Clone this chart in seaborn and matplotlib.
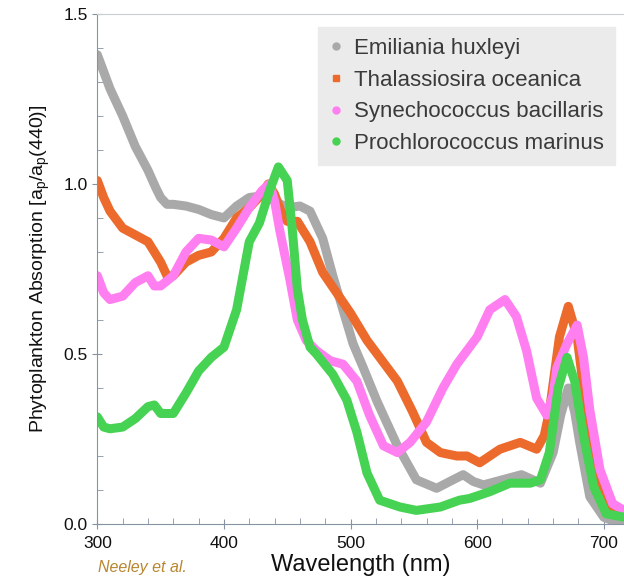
import numpy as np
import pandas as pd
import matplotlib.pyplot as plt
import seaborn as sns
from matplotlib.lines import Line2D
from matplotlib.ticker import MultipleLocator

# Données (longueur d'onde en nm, absorption normalisée)
gray_wl = [300, 305, 310, 320, 330, 340, 346, 350, 355, 360, 370, 380, 390, 400, 410, 420, 430, 440, 450,
           460, 468, 478, 486, 494, 502, 510, 521, 537, 552, 568, 581, 589, 597, 605, 620, 635, 650,
           660, 666, 672, 677, 681, 689, 700, 710, 716]
gray_val = [1.38, 1.33, 1.28, 1.20, 1.11, 1.04, 0.99, 0.96, 0.94, 0.94, 0.935, 0.925, 0.91, 0.90, 0.935, 0.96,
            0.965, 0.95, 0.93, 0.935, 0.92, 0.84, 0.73, 0.63, 0.53, 0.46, 0.36, 0.23, 0.13, 0.105, 0.13,
            0.145, 0.125, 0.115, 0.13, 0.145, 0.12, 0.21, 0.32, 0.40, 0.33, 0.24, 0.08, 0.02, 0.005, 0.0]

orange_wl = [300, 305, 310, 320, 330, 340, 350, 355, 360, 370, 380, 390, 400, 410, 420, 430, 435, 440,
             445, 450, 458, 468, 478, 489, 500, 513, 521, 537, 549, 560, 571, 584, 592, 602, 618, 634,
             647, 653, 657, 665, 672, 679, 687, 695, 705, 716]
orange_val = [1.01, 0.96, 0.92, 0.87, 0.85, 0.83, 0.77, 0.73, 0.73, 0.77, 0.79, 0.80, 0.84, 0.90, 0.93,
              0.97, 1.0, 0.97, 0.92, 0.89, 0.89, 0.83, 0.74, 0.68, 0.62, 0.54, 0.50, 0.42, 0.33, 0.24,
              0.21, 0.20, 0.20, 0.18, 0.22, 0.24, 0.22, 0.26, 0.33, 0.55, 0.64, 0.55, 0.31, 0.12, 0.05, 0.03]

pink_wl = [300, 305, 310, 320, 330, 340, 345, 350, 360, 370, 380, 390, 400, 410, 420, 430, 436, 440,
           444, 452, 458, 465, 473, 484, 494, 505, 515, 526, 537, 547, 560, 573, 584, 600, 610, 622,
           631, 639, 647, 655, 660, 663, 671, 679, 684, 689, 697, 707, 716]
pink_val = [0.73, 0.68, 0.66, 0.67, 0.71, 0.73, 0.70, 0.70, 0.73, 0.80, 0.84, 0.835, 0.815, 0.87, 0.93,
            0.98, 1.0, 0.95, 0.865, 0.72, 0.60, 0.54, 0.51, 0.48, 0.47, 0.42, 0.32, 0.23, 0.21, 0.24,
            0.30, 0.40, 0.47, 0.55, 0.63, 0.66, 0.61, 0.51, 0.37, 0.32, 0.38, 0.46, 0.53, 0.585, 0.49,
            0.335, 0.16, 0.06, 0.04]

green_wl = [300, 305, 310, 320, 330, 340, 345, 350, 360, 370, 380, 390, 400, 410, 413, 420, 428, 436,
            443, 450, 454, 458, 462, 468, 473, 486, 497, 505, 513, 523, 539, 552, 571, 586, 594, 610,
            626, 642, 650, 657, 664, 671, 677, 684, 692, 702, 716]
green_val = [0.315, 0.285, 0.28, 0.285, 0.31, 0.345, 0.35, 0.325, 0.325, 0.385, 0.45, 0.49, 0.52, 0.63,
             0.69, 0.83, 0.885, 0.98, 1.05, 1.01, 0.865, 0.69, 0.60, 0.52, 0.50, 0.44, 0.365, 0.27, 0.15,
             0.07, 0.05, 0.04, 0.05, 0.07, 0.075, 0.095, 0.12, 0.12, 0.13, 0.21, 0.40, 0.49, 0.42, 0.26,
             0.11, 0.03, 0.02]

species = ['Emiliania huxleyi', 'Thalassiosira oceanica', 'Synechococcus bacillaris', 'Prochlorococcus marinus']
colors = ['#a9a9a9', '#ec6a2c', '#ff7ff0', '#46d253']
markers = ['o', 's', 'o', 'o']

# Tableau long pour seaborn
df = pd.concat([
    pd.DataFrame({'wl': gray_wl, 'val': gray_val, 'sp': species[0]}),
    pd.DataFrame({'wl': orange_wl, 'val': orange_val, 'sp': species[1]}),
    pd.DataFrame({'wl': pink_wl, 'val': pink_val, 'sp': species[2]}),
    pd.DataFrame({'wl': green_wl, 'val': green_val, 'sp': species[3]}),
])

sns.set_style('ticks')
plt.rcParams['font.family'] = ['Liberation Sans', 'DejaVu Sans']

fig = plt.figure(figsize=(6.24, 5.79), dpi=100)
ax = fig.add_axes([0.156, 0.095, 0.844, 0.881])

for sp, c in zip(species, colors):
    sub = df[df['sp'] == sp]
    sns.lineplot(data=sub, x='wl', y='val', color=c, linewidth=6.5, ax=ax,
                 sort=False, estimator=None, solid_joinstyle='round', solid_capstyle='round')

ax.set_xlim(300, 716)
ax.set_ylim(0, 1.5)
ax.xaxis.set_major_locator(MultipleLocator(100))
ax.xaxis.set_minor_locator(MultipleLocator(20))
ax.yaxis.set_major_locator(MultipleLocator(0.5))
ax.yaxis.set_minor_locator(MultipleLocator(0.1))
ax.yaxis.set_major_formatter(plt.FormatStrFormatter('%.1f'))

spine_col = '#8593a3'
for s in ['left', 'bottom']:
    ax.spines[s].set_color(spine_col)
ax.spines['top'].set_color('#c8cdd3')
ax.spines['right'].set_visible(False)
ax.tick_params(which='major', direction='inout', length=7, color=spine_col, labelsize=12.5,
               labelcolor='#111111')
ax.tick_params(which='minor', direction='in', length=4, color=spine_col)
ax.tick_params(axis='x', pad=5)

ax.set_xlabel('Wavelength (nm)', fontsize=17, color='#111111', labelpad=2)
ax.set_ylabel(r'Phytoplankton Absorption [a$_\mathregular{p}$/a$_\mathregular{p}$(440)]',
              fontsize=14, color='#111111', labelpad=8)

handles = [Line2D([], [], linestyle='', marker=m, color=c, markersize=5)
           for m, c in zip(markers, colors)]
leg = ax.legend(handles, species, loc='upper left', bbox_to_anchor=(0.419, 0.9745),
                fontsize=16, frameon=True, facecolor='#ebebeb', edgecolor='#ebebeb',
                framealpha=1, fancybox=False, handlelength=0.6, handletextpad=0.5,
                labelspacing=0.48, borderpad=0.5, borderaxespad=0)
for t in leg.get_texts():
    t.set_color('#3a3a3a')

fig.text(0.157, 0.012, 'Neeley et al.', fontsize=11.5, style='italic', color='#b8862e')

fig.savefig('out.png', dpi=100)
